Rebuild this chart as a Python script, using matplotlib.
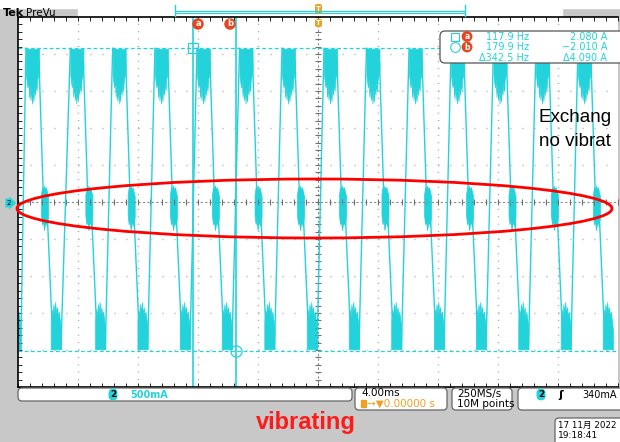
import numpy as np
import matplotlib.pyplot as plt
from matplotlib.patches import Ellipse, FancyBboxPatch, Rectangle
from matplotlib.ticker import MultipleLocator

plt.rcParams['font.family'] = ['DejaVu Sans', 'Noto Sans CJK JP']

W, H = 620, 442
cyan = '#22d3dc'

# cursor readout (ms / A)
cursor_a_t, cursor_b_t = -8.33, -5.47
cursor_a_amp, cursor_b_amp = 2.08, -2.01
readout_hz = ['117.9 Hz', '179.9 Hz', 'Δ342.5 Hz']
readout_amp = ['2.080 A', '−2.010 A', 'Δ4.090 A']

# start (ms from trigger) of every positive plateau on screen
cycle_start = [-22.15, -19.47, -16.51, -13.69, -10.87, -8.07, -5.23, -2.4,
               0.4, 3.23, 6.07, 8.87, 11.7, 14.53, 17.33]

# one cycle of the current, offsets in ms from the plateau start
top_off = [0.0, 0.05, 0.1, 0.15, 0.2, 0.25, 0.3, 0.35, 0.4, 0.45, 0.5, 0.55, 0.6,
           0.65, 0.7, 0.75, 0.8, 0.87]
top_low = [1.72, 1.62, 1.55, 1.68, 1.42, 1.6, 1.38, 1.55, 1.33, 1.5, 1.36, 1.58, 1.45,
           1.62, 1.5, 1.66, 1.7, 1.8]
top_level = 2.07
zero_off = [1.0, 1.07, 1.13, 1.2, 1.27, 1.33, 1.4, 1.47]
zero_high = [0.1, 0.2, 0.15, 0.22, 0.17, 0.2, 0.14, 0.08]
zero_low = [-0.18, -0.3, -0.25, -0.38, -0.3, -0.28, -0.33, -0.2]
bot_off = [1.65, 1.71, 1.77, 1.83, 1.89, 1.95, 2.01, 2.07, 2.13, 2.19, 2.26, 2.33]
bot_high = [-1.62, -1.45, -1.55, -1.38, -1.5, -1.35, -1.52, -1.42, -1.55, -1.48, -1.6, -1.72]
bot_level = -1.99
edge_off = [0.0, 0.87, 1.17, 1.45, 1.73, 2.33]
edge_amp = [2.08, 1.9, 0.0, -0.3, -1.6, -1.99]

fig = plt.figure(figsize=(6.2, 4.42), dpi=100, facecolor='#c8c8c8')


def px_axes(z):
    a = fig.add_axes([0, 0, 1, 1], zorder=z)
    a.set_xlim(0, W)
    a.set_ylim(H, 0)
    a.axis('off')
    return a


bg = px_axes(0)
bg.add_patch(Rectangle((0, 0), W, 8, color='white'))
bg.add_patch(Rectangle((78, 8), 484, 9, color='white'))

# scope screen: 10 x 10 divisions, 4 ms/div, 500 mA/div
ax = fig.add_axes([18 / W, 1 - 387 / H, 600 / W, 370 / H], zorder=2)
ax.set_xlim(-20, 20)
ax.set_ylim(-2.5, 2.5)
for s in ['left', 'top', 'bottom']:
    ax.spines[s].set_linewidth(1.2)
ax.spines['right'].set_visible(False)
ax.xaxis.set_major_locator(MultipleLocator(4))
ax.xaxis.set_minor_locator(MultipleLocator(0.8))
ax.yaxis.set_major_locator(MultipleLocator(0.5))
ax.yaxis.set_minor_locator(MultipleLocator(0.1))
ax.tick_params(which='both', direction='in', length=3, width=0.6, top=True,
               bottom=True, left=True, right=False, labelbottom=False, labelleft=False)

for t in np.arange(-16, 20, 4):
    if t != 0:
        ax.axvline(t, color='#a0a0a0', lw=1, ls=(0, (0.7, 4.63)))
for a in np.arange(-2, 2.5, 0.5):
    if a != 0:
        ax.axhline(a, color='#a0a0a0', lw=1, ls=(0, (0.7, 7.94)))
ax.axhline(0, color='#8a8a8a', lw=0.8, ls=(0, (2, 2)))
ax.axvline(0, color='#8a8a8a', lw=0.8, ls=(0, (2, 2)))
minor_t = np.arange(-20, 20.01, 0.8)
ax.plot(minor_t, np.zeros_like(minor_t), ls='none', marker='|', ms=4, mew=0.8, color='#707070')
minor_a = np.arange(-2.5, 2.51, 0.1)
ax.plot(np.zeros_like(minor_a), minor_a, ls='none', marker='_', ms=4, mew=0.8, color='#707070')

# trace
for t0 in cycle_start:
    ax.fill_between(t0 + np.array(top_off), top_low, top_level, color=cyan, lw=0.5)
    ax.fill_between(t0 + np.array(zero_off), zero_low, zero_high, color=cyan, lw=0.5)
    ax.fill_between(t0 + np.array(bot_off), bot_level, bot_high, color=cyan, lw=0.5)
edge_t = np.concatenate([t0 + np.array(edge_off) for t0 in cycle_start])
edge_a = np.tile(edge_amp, len(cycle_start))
ax.plot(edge_t, edge_a, color=cyan, lw=1)

# cursors
for t in (cursor_a_t, cursor_b_t):
    ax.axvline(t, color=cyan, lw=1.2)
for a in (cursor_a_amp, cursor_b_amp):
    ax.axhline(a, color=cyan, lw=0.9, ls=(0, (3, 2)))
ax.plot(cursor_a_t, cursor_a_amp, marker='s', ms=7, mfc='none', mec=cyan, mew=0.9)
ax.plot(cursor_b_t, cursor_b_amp, marker='o', ms=8, mfc='none', mec=cyan, mew=0.9)

ov = px_axes(6)
ov.add_patch(Ellipse((314.5, 208.5), 595, 59, fill=False, ec='#ff0000', lw=2.0))

# top bar
ov.text(3, 12.5, 'Tek', fontsize=8, fontweight='bold', va='center')
ov.text(26, 12.5, 'PreVu', fontsize=7.5, va='center')
ov.plot([175, 175], [5, 16], color=cyan, lw=1)
ov.plot([465, 465], [5, 16], color=cyan, lw=1)
ov.plot([175, 465], [10.5, 10.5], color=cyan, lw=0.8)
ov.plot([175, 465], [13, 13], color=cyan, lw=0.8)
for y0, h in [(4, 10), (19, 8)]:
    ov.add_patch(FancyBboxPatch((315, y0), 7, h, boxstyle='round,pad=0,rounding_size=2',
                                fc='#f0a020', ec='none'))
    ov.text(318.5, y0 + h / 2, 'T', fontsize=5, color='white', ha='center', va='center',
            fontweight='bold')

for x, lab in [(198, 'a'), (230, 'b')]:
    ov.text(x, 24, lab, ha='center', va='center', fontsize=6, color='white', fontweight='bold',
            bbox=dict(boxstyle='circle,pad=0.15', fc='#e8441e', ec='none'))

ov.text(9, 203, '2', fontsize=5, ha='center', va='center',
        bbox=dict(boxstyle='rarrow,pad=0.2', fc=cyan, ec='none'))

# cursor readout
ov.add_patch(FancyBboxPatch((440, 31), 185, 32, boxstyle='round,pad=0,rounding_size=5',
                            fc='white', ec='#555555', lw=0.9))
rows_y = [36.5, 47, 58]
ov.plot(455, rows_y[0], marker='s', ms=6, mfc='none', mec=cyan, mew=0.8)
ov.plot(455, rows_y[1], marker='o', ms=7, mfc='none', mec=cyan, mew=0.8)
for y, lab in zip(rows_y[:2], ['a', 'b']):
    ov.text(467, y, lab, ha='center', va='center', fontsize=5.5, color='white', fontweight='bold',
            bbox=dict(boxstyle='circle,pad=0.12', fc='#e8441e', ec='none'))
for y, hz, amp in zip(rows_y, readout_hz, readout_amp):
    ov.text(529, y, hz, ha='right', va='center', fontsize=7, color=cyan)
    ov.text(607, y, amp, ha='right', va='center', fontsize=7, color=cyan)

# annotation, clipped by the screenshot edge in the reference
ov.text(539, 117, 'Exchang', fontsize=13.5, family='Liberation Sans', va='center')
ov.text(539, 141, 'no vibrat', fontsize=13.5, family='Liberation Sans', va='center')

# bottom status bar
box = dict(boxstyle='round,pad=0,rounding_size=4', fc='white', ec='#666666', lw=0.9)
ov.add_patch(FancyBboxPatch((18, 388), 334, 13, **box))
ov.add_patch(FancyBboxPatch((355, 388), 92, 22, **box))
ov.add_patch(FancyBboxPatch((452, 388), 60, 22, **box))
ov.add_patch(FancyBboxPatch((518, 388), 110, 22, **box))
ov.add_patch(FancyBboxPatch((555, 418), 70, 30, **box))

badge = dict(boxstyle='round,pad=0.15,rounding_size=0.5', fc=cyan, ec='none')
ov.text(113, 394.5, '2', fontsize=6.5, fontweight='bold', ha='center', va='center', bbox=badge)
ov.text(130, 394.5, '500mA', fontsize=7, fontweight='bold', color=cyan, va='center')
ov.text(361, 393.5, '4.00ms', fontsize=7.5, va='center')
ov.add_patch(Rectangle((361, 400), 5, 7, color='#f0a020'))
ov.text(367, 404, '→▼0.00000 s', fontsize=7.5, color='#f0a020', va='center')
ov.text(457, 393.5, '250MS/s', fontsize=7.5, va='center')
ov.text(457, 404, '10M points', fontsize=7.5, va='center')
ov.text(541, 394.5, '2', fontsize=6.5, fontweight='bold', ha='center', va='center', bbox=badge)
ov.text(561, 394.5, 'ʃ', fontsize=8, fontweight='bold', ha='center', va='center')
ov.text(582, 394.5, '340mA', fontsize=7, va='center')
ov.text(558, 425, '17 11月 2022', fontsize=6.3, va='center')
ov.text(558, 435, '19:18:41', fontsize=6.5, va='center')

ov.text(306, 422, 'vibrating', fontsize=17, fontweight='bold', color='#ff1a1a',
        family='Liberation Sans', ha='center', va='center')

fig.savefig('out.png', dpi=100, facecolor=fig.get_facecolor())
